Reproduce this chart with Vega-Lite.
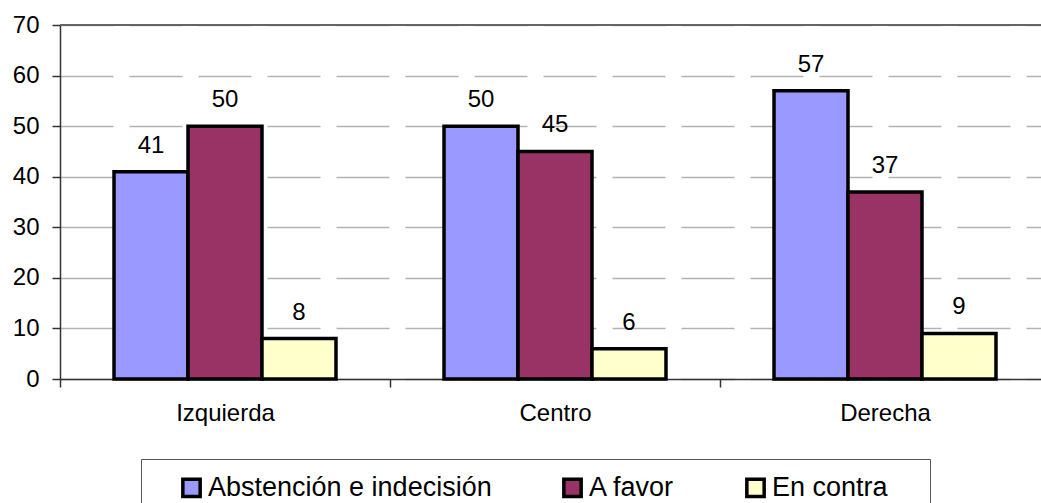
{
  "$schema": "https://vega.github.io/schema/vega-lite/v6.json",
  "autosize": {"type": "none"},
  "width": 981,
  "height": 354,
  "padding": {"left": 60, "top": 25, "right": 0, "bottom": 124},
  "background": "white",
  "config": {
    "view": {"stroke": null},
    "font": "Liberation Sans, Arial"
  },
  "data": {
    "values": [
      {"grupo": "Izquierda", "serie": "Abstención e indecisión", "valor": 41},
      {"grupo": "Izquierda", "serie": "A favor", "valor": 50},
      {"grupo": "Izquierda", "serie": "En contra", "valor": 8},
      {"grupo": "Centro", "serie": "Abstención e indecisión", "valor": 50},
      {"grupo": "Centro", "serie": "A favor", "valor": 45},
      {"grupo": "Centro", "serie": "En contra", "valor": 6},
      {"grupo": "Derecha", "serie": "Abstención e indecisión", "valor": 57},
      {"grupo": "Derecha", "serie": "A favor", "valor": 37},
      {"grupo": "Derecha", "serie": "En contra", "valor": 9}
    ]
  },
  "layer": [
    {
      "mark": {"type": "rule", "color": "#666666", "strokeWidth": 1.5},
      "encoding": {
        "y": {"datum": 70, "type": "quantitative", "scale": {"domain": [0, 70], "nice": false}}
      }
    },
    {
      "mark": {"type": "bar", "stroke": "#000000", "strokeWidth": 3.5},
      "encoding": {
        "x": {
          "field": "grupo", "type": "nominal", "sort": ["Izquierda", "Centro", "Derecha"],
          "scale": {"range": [0, 990], "paddingInner": 0, "paddingOuter": 0},
          "axis": {
            "title": null, "labelAngle": 0, "tickBand": "extent", "tickSize": 8,
            "domainColor": "#333333", "domainWidth": 1.5, "tickColor": "#333333", "tickWidth": 1.5,
            "labelFontSize": 24, "labelColor": "#000000", "labelPadding": 14, "grid": false
          }
        },
        "xOffset": {
          "field": "serie", "type": "nominal",
          "sort": ["Abstención e indecisión", "A favor", "En contra"],
          "scale": {"paddingInner": 0, "paddingOuter": 0.73}
        },
        "y": {
          "field": "valor", "type": "quantitative",
          "scale": {"domain": [0, 70], "nice": false},
          "axis": {
            "title": null, "values": [0, 10, 20, 30, 40, 50, 60, 70],
            "tickSize": 8, "labelPadding": 13, "labelFontSize": 24, "labelColor": "#000000",
            "domainColor": "#333333", "domainWidth": 1.5, "tickColor": "#333333", "tickWidth": 1.5,
            "grid": true, "gridColor": "#b3b3b3", "gridWidth": 1.5, "gridDash": [53, 16]
          }
        },
        "color": {
          "field": "serie", "type": "nominal",
          "sort": ["Abstención e indecisión", "A favor", "En contra"],
          "scale": {"domain": ["Abstención e indecisión", "A favor", "En contra"], "range": ["#9999FF", "#993366", "#FFFFCC"]},
          "legend": {
            "title": "\u2002", "titleOrient": "right", "titlePadding": 27, "titleFontSize": 10,
            "orient": "none", "legendX": 81, "legendY": 434,
            "direction": "horizontal", "symbolType": "square", "symbolSize": 300,
            "symbolStrokeColor": "#000000", "symbolStrokeWidth": 3.5, "symbolOpacity": 1,
            "labelFontSize": 27, "labelColor": "#000000", "labelOffset": 3, "labelLimit": 500,
            "columnPadding": 45, "padding": 15, "symbolOffset": 22,
            "strokeColor": "#555555", "fillColor": "#ffffff"
          }
        }
      }
    },
    {
      "mark": {"type": "text", "baseline": "alphabetic", "dy": -19, "fontSize": 24, "color": "#000000"},
      "encoding": {
        "x": {"field": "grupo", "type": "nominal", "sort": ["Izquierda", "Centro", "Derecha"]},
        "xOffset": {"field": "serie", "type": "nominal", "sort": ["Abstención e indecisión", "A favor", "En contra"]},
        "y": {"field": "valor", "type": "quantitative"},
        "text": {"field": "valor", "type": "quantitative"}
      }
    }
  ]
}
